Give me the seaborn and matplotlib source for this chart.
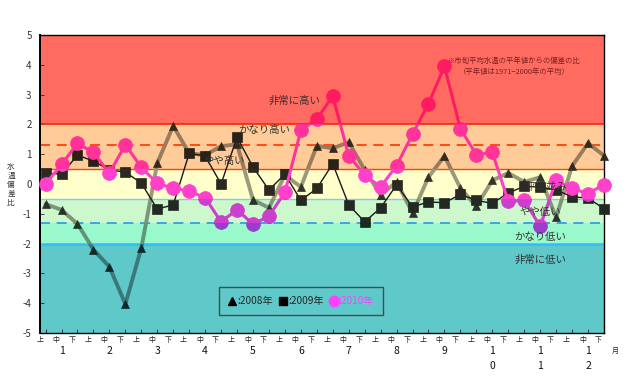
import numpy as np
import pandas as pd
import seaborn as sns
import matplotlib.pyplot as plt
from matplotlib.patches import Rectangle
from matplotlib.lines import Line2D
from matplotlib.colors import to_rgb

# ---- data ----
junkan = ["上", "中", "下"] * 12
months = ["1", "2", "3", "4", "5", "6", "7", "8", "9", "1\n0", "1\n1", "1\n2"]

y2008 = [-0.67, -0.87, -1.34, -2.2, -2.78, -4.03, -2.15, 0.7, 1.95, 1.03, 0.97, 1.27,
         1.33, -0.53, -0.8, 0.3, -0.1, 1.28, 1.2, 1.4, 0.47, -0.37, 0.07, -0.97,
         0.23, 0.94, -0.14, -0.75, 0.12, 0.37, 0.07, 0.23, -1.12, 0.6, 1.37, 0.95]
y2009 = [0.37, 0.33, 0.97, 0.77, 0.47, 0.4, 0.03, -0.84, -0.7, 1.03, 0.94, 0.0,
         1.57, 0.57, -0.2, 0.33, -0.55, -0.15, 0.68, -0.7, -1.27, -0.8, -0.03, -0.77,
         -0.6, -0.63, -0.35, -0.55, -0.65, -0.3, -0.08, -0.1, -0.2, -0.43, -0.47, -0.83]
y2010 = [0.0, 0.66, 1.36, 1.06, 0.36, 1.32, 0.56, 0.02, -0.14, -0.24, -0.46, -1.27,
         -0.86, -1.35, -1.08, -0.28, 1.8, 2.18, 2.95, 0.95, 0.3, -0.1, 0.62, 1.67,
         2.7, 3.95, 1.85, 0.98, 1.06, -0.58, -0.55, -1.42, 0.12, -0.15, -0.32, -0.02]

df = pd.DataFrame({"idx": np.arange(36), "2008": y2008, "2009": y2009, "2010": y2010})

# background bands (lo, hi, colour)
bands = [(2, 5.5, "#FF6B61"), (0.5, 2, "#FFCC99"), (-0.5, 0.5, "#FFFFCC"),
         (-1.3, -0.5, "#CCF8CC"), (-2, -1.3, "#99F8CC"), (-5.5, -2, "#5FC8C8")]

band_labels = [(15.6, 2.8, "非常に高い"), (13.7, 1.8, "かなり高い"), (11.2, 0.77, "やや高い"),
               (31.4, -0.1, "平年並み"), (31.0, -0.95, "やや低い"),
               (31.0, -1.78, "かなり低い"), (31.0, -2.55, "非常に低い")]

sns.set_theme(style="white")
plt.rcParams["font.family"] = ["Noto Sans CJK JP", "DejaVu Sans"]

fig = plt.figure(figsize=(6.4, 3.86), dpi=100)
ax = fig.add_axes([40 / 640, 1 - 333 / 386, 564 / 640, 298 / 386])


def mult(c1, c2):
    a, b = to_rgb(c1), to_rgb(c2)
    return tuple(x * y for x, y in zip(a, b))


for lo, hi, c in bands:
    ax.axhspan(lo, hi, color=c, lw=0, zorder=0)

ax.axhline(2, color="#FF2200", lw=1.2, zorder=2)
ax.axhline(1.3, color="#FF3300", lw=1.2, ls=(0, (6, 4)), zorder=2)
ax.axhline(0.5, color="#FF4400", lw=1.0, zorder=2)
ax.axhline(-0.5, color="#77CCFF", lw=1.0, zorder=2)
ax.axhline(-1.3, color="#2299EE", lw=1.2, ls=(0, (6, 4)), zorder=2)
ax.axhline(-2, color="#33BBFF", lw=1.8, zorder=2)

# series: (column, line colour, marker colour, marker, size, lw, zorder)
series = [("2008", "#9a9a9a", "#333333", "^", 6, 2.8, 3),
          ("2009", "#1a1a1a", "#2a2a2a", "s", 7, 1.0, 4),
          ("2010", "#FF40FF", "#FF40FF", "o", 10, 2.2, 5)]

# draw each series once per band, tinted like a multiply blend
for lo, hi, bc in bands:
    clip = Rectangle((-2, lo), 40, hi - lo, transform=ax.transData)
    for col, lc, mc, mk, ms, lw, z in series:
        n = len(ax.lines)
        sns.lineplot(data=df, x="idx", y=col, ax=ax, color=mult(lc, bc),
                     marker=mk, markersize=ms, markerfacecolor=mult(mc, bc),
                     markeredgecolor=mult(mc, bc), markeredgewidth=0.5,
                     linewidth=lw, zorder=z)
        for ln in ax.lines[n:]:
            ln.set_clip_path(clip)

for x, y, t in band_labels:
    ax.text(x, y, t, fontsize=7.5, color="#333333", ha="center", va="center", zorder=6)

ax.text(29.4, 4.13, "※市旬平均水温の平年値からの偏差の比", fontsize=5.3,
        color="#7a2020", ha="center", va="center", zorder=6)
ax.text(29.4, 3.77, "（平年値は1971−2000年の平均）", fontsize=5.3,
        color="#7a2020", ha="center", va="center", zorder=6)

ax.set_xlim(0, 35)
ax.set_ylim(-5, 5)
ax.set_yticks(range(-5, 6))
ax.set_yticklabels([str(v) for v in range(-5, 6)], fontsize=7, color="#333333")
ax.tick_params(axis="y", direction="in", length=3, width=0.6, pad=6, left=True)

ax.set_xticks(np.arange(36) - 0.35)
ax.set_xticklabels(junkan, fontsize=5, color="#222222")
ax.tick_params(axis="x", length=0, pad=2)
ax.set_xticks(np.arange(36), minor=True)
ax.tick_params(axis="x", which="minor", direction="in", length=3, width=0.6, bottom=True)

tr = ax.get_xaxis_transform()
for m, lab in enumerate(months):
    ax.text(3 * m + 1, -0.045, lab, transform=tr, fontsize=7.5, ha="center",
            va="top", linespacing=1.6, color="#111111")
ax.text(35.5, -0.048, "月", transform=tr, fontsize=5, ha="left", va="top")

ax.set_xlabel("")
ax.set_ylabel("")
fig.text(11 / 640, 1 - 185 / 386, "水\n温\n偏\n差\n比", fontsize=5.5, ha="center",
         va="center", linespacing=1.15, color="#333333")

for s in ax.spines.values():
    s.set_color("black")
    s.set_linewidth(1.0)
ax.spines["left"].set_linewidth(1.4)

handles = [Line2D([], [], marker="^", color="black", ls="none", markersize=6),
           Line2D([], [], marker="s", color="black", ls="none", markersize=6),
           Line2D([], [], marker="o", color="#FF40FF", ls="none", markersize=7.5)]
leg = ax.legend(handles, [":2008年", ":2009年", ":2010年"], loc="center",
                bbox_to_anchor=(0.463, 0.107), ncol=3, fontsize=7.3, frameon=True,
                fancybox=False, edgecolor="#333333", facecolor="none",
                handlelength=0.8, handletextpad=0.1, columnspacing=0.6,
                borderpad=0.9, borderaxespad=0)
leg.get_frame().set_linewidth(1.0)
leg.get_texts()[2].set_color("#FF40FF")
leg.set_zorder(7)
leg._legend_box.sep = 0
leg.get_frame().set_boxstyle("square", pad=0.0)

fig.savefig("out.png", dpi=100)
